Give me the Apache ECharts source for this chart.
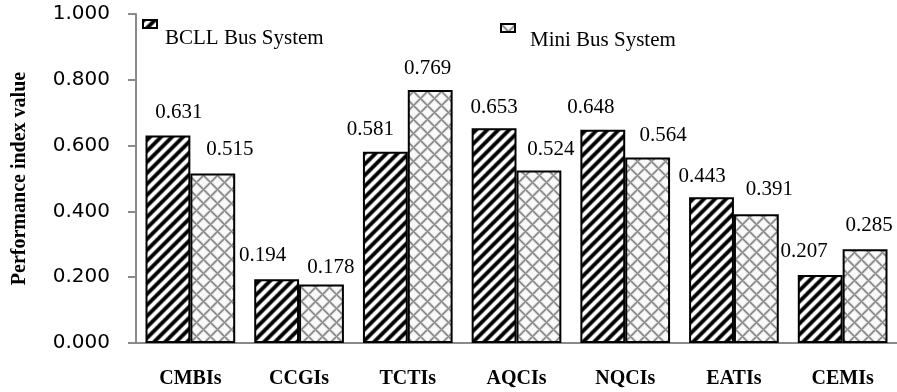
<!DOCTYPE html>
<html>
<head>
<meta charset="utf-8">
<script src="https://cdn.jsdelivr.net/npm/echarts@6/dist/echarts.min.js"></script>
<style>
  html, body { margin: 0; padding: 0; background: #ffffff; }
  #chart { width: 897px; height: 392px; }
</style>
</head>
<body>
<div id="chart"></div>
<script>
// Performance index values per indicator group
const categories = ['CMBIs', 'CCGIs', 'TCTIs', 'AQCIs', 'NQCIs', 'EATIs', 'CEMIs'];
const seriesNames = ['BCLL Bus System', 'Mini Bus System'];
const bcllValues = [0.631, 0.194, 0.581, 0.653, 0.648, 0.443, 0.207];
const miniValues = [0.515, 0.178, 0.769, 0.524, 0.564, 0.391, 0.285];
const yTicks = [0, 0.2, 0.4, 0.6, 0.8, 1.0];

// Hand-placed value label nudges [dx, dy] in pixels
const bcllLabelShift = [[11, -7], [-14, -8], [-15, -7], [0, -5.5], [-12, -7], [-9.5, -5], [-16, -8]];
const miniLabelShift = [[17, -9], [9.5, -1], [-2.5, -6], [12, -6], [15.5, -6], [13, -9], [4, -8]];

// Diagonal black/white stripe tile
function stripeTile() {
  const P = 11;
  const c = document.createElement('canvas');
  c.width = P; c.height = P;
  const ctx = c.getContext('2d');
  const img = ctx.createImageData(P, P);
  for (let y = 0; y < P; y++) {
    for (let x = 0; x < P; x++) {
      const t = ((x + y) % P) / P;
      let v = 0.5 + 0.75 * Math.cos(2 * Math.PI * t);
      v = Math.max(0, Math.min(1, v));
      const g = Math.round(255 * (1 - v));
      const i = (y * P + x) * 4;
      img.data[i] = g; img.data[i + 1] = g; img.data[i + 2] = g; img.data[i + 3] = 255;
    }
  }
  ctx.putImageData(img, 0, 0);
  return c;
}

// Light grey diamond lattice tile
function latticeTile() {
  const P = 14;
  const c = document.createElement('canvas');
  c.width = P; c.height = P;
  const ctx = c.getContext('2d');
  const img = ctx.createImageData(P, P);
  for (let y = 0; y < P; y++) {
    for (let x = 0; x < P; x++) {
      const a = (x + y) % P;
      const b = ((x - y) % P + P) % P;
      const d1 = Math.min(a, P - a);
      const d2 = Math.min(b, P - b);
      const s = Math.max(Math.exp(-(d1 * d1) / 2.2), Math.exp(-(d2 * d2) / 2.2));
      const g = Math.round(250 - 120 * s);
      const i = (y * P + x) * 4;
      img.data[i] = g; img.data[i + 1] = g; img.data[i + 2] = g; img.data[i + 3] = 255;
    }
  }
  ctx.putImageData(img, 0, 0);
  return c;
}

const stripeFill = { image: stripeTile(), repeat: 'repeat' };
const latticeFill = { image: latticeTile(), repeat: 'repeat' };

function withLabels(values, shifts) {
  return values.map((v, i) => ({ value: v, label: { offset: shifts[i] } }));
}

const serifFont = '"Liberation Serif", "Times New Roman", serif';

const chart = echarts.init(document.getElementById('chart'), null, { renderer: 'canvas' });

chart.setOption({
  animation: false,
  backgroundColor: '#ffffff',
  grid: { left: 136, right: -5, top: 14, bottom: 49, containLabel: false },
  legend: [
    {
      // leading blank line drops the name below its swatch
      data: [seriesNames[0]],
      left: 142, top: -4, padding: 0,
      icon: 'rect', itemWidth: 14, itemHeight: 8,
      formatter: name => '\n' + name,
      textStyle: { fontFamily: serifFont, fontSize: 21, color: '#000', lineHeight: 28, padding: [0, 0, 0, 3] }
    },
    {
      data: [seriesNames[1]],
      left: 500, top: 4, padding: 0,
      icon: 'rect', itemWidth: 14, itemHeight: 8,
      formatter: name => '\n' + name,
      textStyle: { fontFamily: serifFont, fontSize: 21, color: '#000', lineHeight: 24, padding: [0, 0, 0, 10] }
    }
  ],
  xAxis: {
    type: 'category',
    data: categories,
    axisLine: { show: true, lineStyle: { color: '#8a8a8a', width: 2 } },
    axisTick: { show: false },
    axisLabel: { fontFamily: serifFont, fontWeight: 'bold', fontSize: 20, color: '#000', margin: 26 }
  },
  yAxis: {
    type: 'value',
    min: yTicks[0],
    max: yTicks[yTicks.length - 1],
    interval: yTicks[1] - yTicks[0],
    name: 'Performance index value',
    nameLocation: 'middle',
    nameGap: 106,
    nameTextStyle: { fontFamily: serifFont, fontWeight: 'bold', fontSize: 20, color: '#000' },
    axisLine: { show: true, lineStyle: { color: '#8a8a8a', width: 2 } },
    axisTick: { show: true, length: 8, inside: false, lineStyle: { color: '#8a8a8a', width: 2 } },
    splitLine: { show: false },
    axisLabel: {
      fontFamily: '"DejaVu Sans", sans-serif', fontSize: 20, color: '#000', margin: 26,
      formatter: v => v.toFixed(3)
    }
  },
  series: [
    {
      name: seriesNames[0],
      type: 'bar',
      data: withLabels(bcllValues, bcllLabelShift),
      barGap: '0%',
      barCategoryGap: '17.5%',
      itemStyle: { color: stripeFill, borderColor: '#000', borderWidth: 2 },
      label: {
        show: true, position: 'top', distance: 5,
        fontFamily: serifFont, fontSize: 21, color: '#000',
        formatter: p => p.value.toFixed(3)
      }
    },
    {
      name: seriesNames[1],
      type: 'bar',
      data: withLabels(miniValues, miniLabelShift),
      barGap: '0%',
      barCategoryGap: '17.5%',
      itemStyle: { color: latticeFill, borderColor: '#000', borderWidth: 2 },
      label: {
        show: true, position: 'top', distance: 5,
        fontFamily: serifFont, fontSize: 21, color: '#000',
        formatter: p => p.value.toFixed(3)
      }
    }
  ]
});
</script>
</body>
</html>
